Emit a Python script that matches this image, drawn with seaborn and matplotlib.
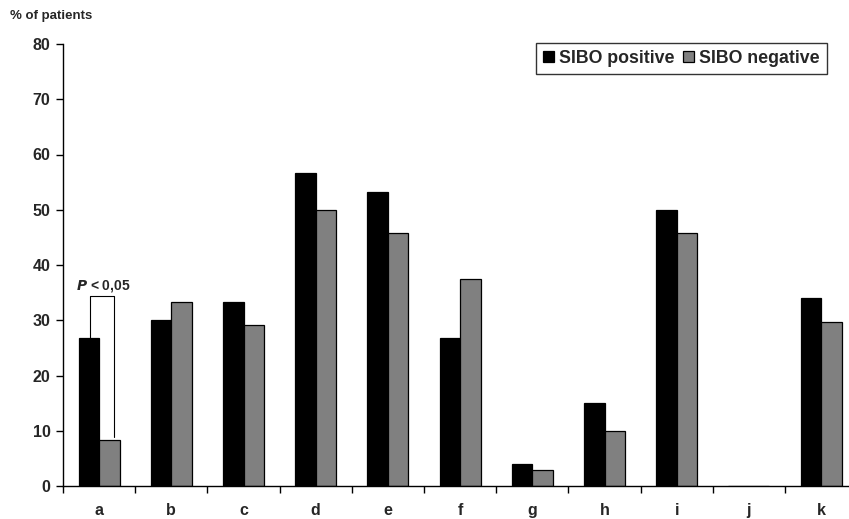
import matplotlib
matplotlib.use("Agg")
import matplotlib.pyplot as plt
from matplotlib.ticker import FixedLocator
import seaborn as sns
import pandas as pd

categories = ["a", "b", "c", "d", "e", "f", "g", "h", "i", "j", "k"]
sibo_positive = [26.7, 30.0, 33.3, 56.7, 53.3, 26.7, 4.0, 15.1, 50.0, 0.0, 34.1]
sibo_negative = [8.3, 33.3, 29.2, 50.0, 45.8, 37.5, 2.9, 10.0, 45.8, 0.0, 29.7]
series_names = ["SIBO positive", "SIBO negative"]
yticks = [0, 10, 20, 30, 40, 50, 60, 70, 80]

df = pd.DataFrame({
    "category": categories * 2,
    "value": sibo_positive + sibo_negative,
    "group": [series_names[0]] * len(categories) + [series_names[1]] * len(categories),
})

sns.set_theme(style="white")
plt.rcParams["font.family"] = ["Liberation Sans", "DejaVu Sans"]
plt.rcParams["font.weight"] = "bold"

fig = plt.figure(figsize=(8.49, 5.19), dpi=100)
ax = fig.add_axes([63 / 849, 33 / 519, (849 - 63) / 849, (486 - 44) / 519])

sns.barplot(data=df, x="category", y="value", hue="group", order=categories,
            hue_order=series_names, palette=["#000000", "#808080"],
            width=0.57, gap=0, edgecolor="black", linewidth=0.9,
            saturation=1, errorbar=None, ax=ax)

ax.set_xlim(-0.5, -0.5 + (849 - 63) / 72.2)
ax.set_ylim(0, 80)
ax.set_yticks(yticks)
ax.set_yticklabels([str(t) for t in yticks], fontsize=11.5, fontweight="bold")
ax.set_xticks(range(len(categories)))
ax.set_xticklabels(categories, fontsize=11.5, fontweight="bold")
ax.xaxis.set_minor_locator(FixedLocator([i - 0.5 for i in range(len(categories) + 1)]))
ax.tick_params(axis="x", which="major", length=0, pad=12)
ax.tick_params(axis="x", which="minor", length=5, width=1, direction="out", color="black", bottom=True)
ax.tick_params(axis="y", length=5, width=1, direction="out", color="black", left=True, pad=4)

ax.set_xlabel("")
ax.set_ylabel("")
for side in ["top", "right"]:
    ax.spines[side].set_visible(False)
for side in ["left", "bottom"]:
    ax.spines[side].set_color("black")
    ax.spines[side].set_linewidth(1)

# significance bracket for category a
ax.plot([-0.12, -0.12, 0.21, 0.21], [sibo_positive[0], 34.4, 34.4, sibo_negative[0] + 0.6],
        color="black", linewidth=0.8, clip_on=False)
ax.text(0.06, 35.6, r"$\boldsymbol{P}$ < 0,05", ha="center", va="baseline",
        fontsize=10, fontweight="bold")

leg = ax.legend(loc="upper right", bbox_to_anchor=((827 - 63) / (849 - 63), 1.003),
                frameon=True, fancybox=False, edgecolor="black",
                prop={"size": 12.8, "weight": "bold"}, ncol=2,
                handlelength=0.6, handleheight=0.6, handletextpad=0.3,
                columnspacing=0.5, borderpad=0.4, borderaxespad=0)
leg.get_frame().set_linewidth(1)

fig.text(10 / 849, 1 - 16 / 519, "% of patients", fontsize=9.5, fontweight="bold",
         ha="left", va="center")

fig.savefig("out.png", dpi=100)
